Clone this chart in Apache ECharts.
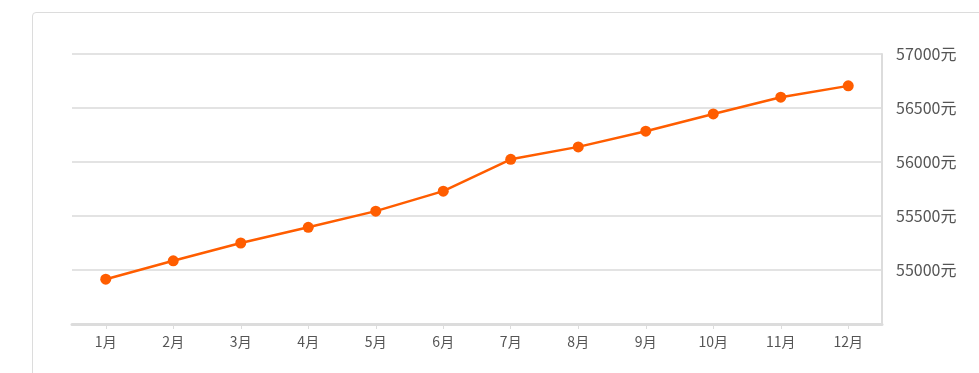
<!DOCTYPE html>
<html>
<head>
<meta charset="utf-8">
<script src="https://cdn.jsdelivr.net/npm/echarts@6/dist/echarts.min.js"></script>
<style>
html,body{margin:0;padding:0;background:#fff;overflow:hidden;}
#box{position:absolute;left:32px;top:12px;width:1100px;height:500px;border:1px solid #dcdcdc;border-radius:4px;box-sizing:border-box;}
#chart{position:absolute;left:0;top:0;width:979px;height:373px;}
</style>
</head>
<body>
<div id="box"></div>
<div id="chart"></div>
<script>
const categories = ['1月','2月','3月','4月','5月','6月','7月','8月','9月','10月','11月','12月'];
const values = [54915, 55085, 55250, 55395, 55545, 55730, 56025, 56140, 56285, 56445, 56600, 56705];
const yMin = 54500, yMax = 57000, yStep = 500;
const unit = '元';

const chart = echarts.init(document.getElementById('chart'), null, {renderer:'canvas'});
chart.setOption({
  animation: false,
  grid: {left: 72, right: 97, top: 54, bottom: 49},
  xAxis: {
    type: 'category',
    data: categories,
    boundaryGap: true,
    axisLine: {show: true, lineStyle: {color: '#dcdcdc', width: 3}},
    axisTick: {show: true, alignWithLabel: true, length: 5, lineStyle: {color: '#dcdcdc', width: 1}},
    axisLabel: {color: '#555', fontSize: 14, margin: 11, fontFamily: 'Noto Sans CJK SC'},
    splitLine: {show: false}
  },
  yAxis: {
    type: 'value',
    position: 'right',
    min: yMin, max: yMax, interval: yStep,
    axisLine: {show: true, lineStyle: {color: '#dcdcdc', width: 2}},
    axisTick: {show: false},
    axisLabel: {
      color: '#555', fontSize: 16, margin: 14, fontFamily: 'Noto Sans CJK SC',
      padding: [0, 0, 5, 0],
      formatter: function (v) { return v === yMin ? '' : v + unit; }
    },
    splitLine: {show: true, lineStyle: {color: '#e3e3e3', width: 2}}
  },
  series: [{
    type: 'line',
    data: values,
    symbol: 'circle',
    symbolSize: 11,
    showAllSymbol: true,
    lineStyle: {color: '#ff5d00', width: 2.5},
    itemStyle: {color: '#ff5d00'}
  }]
});
</script>
</body>
</html>
